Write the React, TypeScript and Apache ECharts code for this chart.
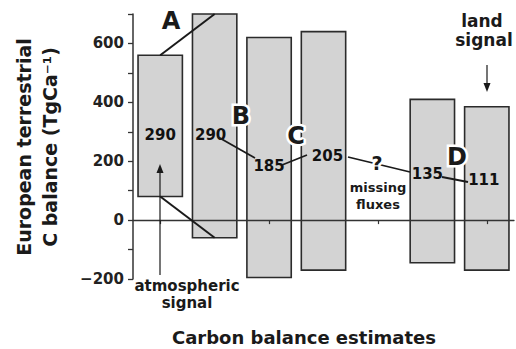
import React, { useEffect, useRef } from "react";
import * as echarts from "echarts";

// ---- data ----
const categories = ["E1", "E2", "E3", "E4", "Missing fluxes", "E5", "E6"];
const lowValues: (number | null)[] = [80, -60, -195, -170, null, -145, -170];
const highValues: (number | null)[] = [560, 700, 620, 640, null, 410, 385];
const midValues: (number | null)[] = [290, 290, 185, 205, null, 135, 111];
const yTickLabels = [-200, 0, 200, 400, 600];

// ---- styling ----
const FONT = '"DejaVu Sans", "Liberation Sans", sans-serif';
const INK = "#1a1a1a";
const AXIS = "#333333";

// label offsets (pixels) for the central estimates
const midOffsets: [number, number][] = [
  [0, 0],
  [-4, 0],
  [0, 0],
  [4, -4],
  [0, 0],
  [-5, -6],
  [-3, -7],
];

function text(t: string, x: number, y: number, size: number, extra: any = {}) {
  return {
    type: "text",
    x,
    y,
    z: 30,
    style: {
      text: t,
      fill: INK,
      fontSize: size,
      fontWeight: "bold",
      fontFamily: FONT,
      align: "center",
      verticalAlign: "middle",
      ...extra,
    },
  };
}

function haloText(t: string, x: number, y: number, size: number) {
  return [
    text(t, x, y, size, { fill: "#fff", stroke: "#fff", lineWidth: 5 }),
    text(t, x, y, size),
  ];
}

function seg(x1: number, y1: number, x2: number, y2: number, w = 1.8) {
  return {
    type: "line",
    z: 25,
    shape: { x1, y1, x2, y2 },
    style: { stroke: INK, lineWidth: w },
  };
}

export default function App() {
  const ref = useRef<HTMLDivElement>(null);

  useEffect(() => {
    document.body.style.margin = "0";
    if (!ref.current) return;
    const chart = echarts.init(ref.current, null, { renderer: "svg" });

    const barData = categories
      .map((c, i) =>
        lowValues[i] == null ? null : [i, lowValues[i] as number, highValues[i] as number]
      )
      .filter((d) => d !== null);

    const midData = categories
      .map((c, i) =>
        midValues[i] == null
          ? null
          : { value: [i, midValues[i]], label: { offset: midOffsets[i] } }
      )
      .filter((d) => d !== null);

    const yTitle: any = text(
      "European terrestrial\nC balance (TgCa\u207B\u00B9)",
      37,
      147,
      19,
      { lineHeight: 26 }
    );
    yTitle.rotation = Math.PI / 2;

    const option: any = {
      animation: false,
      grid: { left: 133, right: 2, top: 14, bottom: 70, containLabel: false },
      xAxis: {
        type: "category",
        data: categories,
        z: 5,
        axisLine: { onZero: true, lineStyle: { color: AXIS, width: 1.3 } },
        axisTick: { show: true, alignWithLabel: true, length: 4, lineStyle: { color: AXIS, width: 1.2 } },
        axisLabel: { show: false },
        splitLine: { show: false },
      },
      yAxis: {
        type: "value",
        min: -200,
        max: 700,
        interval: 100,
        axisLine: { show: true, onZero: false, lineStyle: { color: AXIS, width: 1.5 } },
        axisTick: { show: true, length: 5, lineStyle: { color: AXIS, width: 1.3 } },
        axisLabel: {
          color: "#222",
          fontSize: 15,
          fontWeight: "bold",
          fontFamily: FONT,
          margin: 9,
          formatter: (v: number) =>
            yTickLabels.includes(v) ? (v < 0 ? "\u2212" + Math.abs(v) : String(v)) : "",
        },
        splitLine: { show: false },
      },
      series: [
        {
          type: "custom",
          z: 2,
          data: barData,
          encode: { x: 0, y: [1, 2] },
          renderItem: (params: any, api: any) => {
            const i = api.value(0);
            const lo = api.coord([i, api.value(1)]);
            const hi = api.coord([i, api.value(2)]);
            const w = api.size([1, 0])[0] * 0.815;
            return {
              type: "rect",
              shape: { x: lo[0] - w / 2, y: hi[1], width: w, height: lo[1] - hi[1] },
              style: { fill: "#d3d3d3", stroke: "#2b2b2b", lineWidth: 1.6 },
            };
          },
        },
        {
          type: "line",
          z: 6,
          symbol: "none",
          data: [
            [0, highValues[0]],
            [1, highValues[1]],
          ],
          lineStyle: { color: INK, width: 2 },
        },
        {
          type: "line",
          z: 6,
          symbol: "none",
          data: [
            [0, lowValues[0]],
            [1, lowValues[1]],
          ],
          lineStyle: { color: INK, width: 2 },
        },
        {
          type: "scatter",
          z: 8,
          symbolSize: 1,
          itemStyle: { color: "rgba(0,0,0,0)" },
          data: midData,
          label: {
            show: true,
            position: "inside",
            formatter: (p: any) => String(p.value[1]),
            color: "#111",
            opacity: 1,
            textBorderWidth: 0,
            fontSize: 15,
            fontWeight: "bold",
            fontFamily: FONT,
          },
        },
      ],
      graphic: [
        // connectors between central estimates
        seg(218, 137, 255, 158),
        seg(282, 165, 307, 155),
        seg(348, 157, 410, 172),
        seg(442, 177, 468, 182),
        // letters
        text("A", 171, 21, 24),
        ...haloText("B", 241, 116, 24),
        ...haloText("C", 296, 136, 24),
        ...haloText("D", 457, 157, 24),
        ...haloText("?", 377, 163, 19),
        // missing fluxes
        text("missing", 378, 187, 13),
        text("fluxes", 378, 204, 13),
        // atmospheric signal
        seg(160, 275, 160, 170, 1.2),
        {
          type: "polygon",
          z: 25,
          shape: { points: [[156.5, 173], [163.5, 173], [160, 164]] },
          style: { fill: INK },
        },
        text("atmospheric", 187, 286, 15),
        text("signal", 187, 303, 15),
        // land signal
        text("land", 482, 21, 17),
        text("signal", 484, 40, 17),
        seg(487, 65, 487, 85, 1.2),
        {
          type: "polygon",
          z: 25,
          shape: { points: [[483.5, 83], [490.5, 83], [487, 92]] },
          style: { fill: INK },
        },
        // axis titles
        text("Carbon balance estimates", 304, 337, 18),
        yTitle,
      ],
    };

    chart.setOption(option);
    return () => chart.dispose();
  }, []);

  return <div ref={ref} style={{ width: 516, height: 349 }} />;
}
